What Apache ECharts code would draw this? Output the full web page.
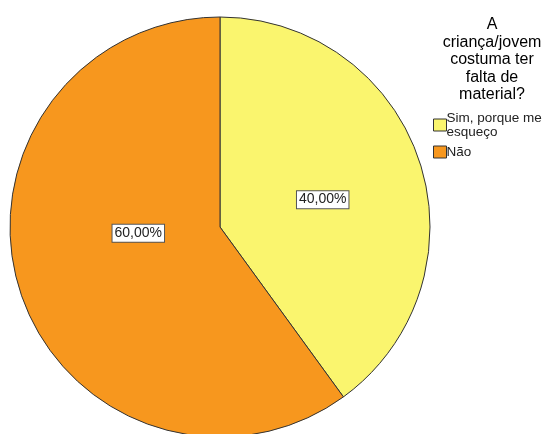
<!DOCTYPE html>
<html><head><meta charset="utf-8">
<script src="https://cdn.jsdelivr.net/npm/echarts@6/dist/echarts.min.js"></script>
<style>html,body{margin:0;padding:0;background:#fff}#c{width:546px;height:434px}</style>
</head><body><div id="c"></div>
<script>
const categories = ['Sim, porque me\nesqueço', 'Não'];
const values = [40, 60];
const colors = ['#FAF56E', '#F7971E'];
const legendTitle = 'A\ncriança/jovem\ncostuma ter\nfalta de\nmaterial?';

const labelShift = [[0, 6], [21, -27]];

const chart = echarts.init(document.getElementById('c'));
chart.setOption({
  backgroundColor: '#fff',
  animation: false,
  textStyle: { fontFamily: 'Liberation Sans, Arial, sans-serif' },
  title: {
    text: legendTitle,
    left: 487, top: 11, textAlign: 'center',
    textStyle: { fontSize: 16, fontWeight: 'normal', color: '#000', lineHeight: 17.5, fontFamily: 'Liberation Sans' }
  },
  legend: {
    orient: 'vertical', left: 428, top: 106,
    itemWidth: 13, itemHeight: 12, itemGap: 6,
    icon: 'rect',
    itemStyle: { borderColor: '#333', borderWidth: 1 },
    textStyle: { fontSize: 13.5, color: '#222', lineHeight: 14, padding: [0, 0, 0, -5], fontFamily: 'Liberation Sans' },
    data: categories
  },
  series: [{
    type: 'pie',
    center: [220, 227],
    radius: [0, 210],
    startAngle: 90,
    clockwise: true,
    color: colors,
    itemStyle: { borderColor: '#333', borderWidth: 1 },
    label: {
      show: true, position: 'inside',
      formatter: p => p.value.toFixed(2).replace('.', ',') + '%',
      fontSize: 14, color: '#222', backgroundColor: '#fff',
      borderColor: '#555', borderWidth: 1, padding: [2, 2, 1, 2],
      fontFamily: 'Liberation Sans'
    },
    labelLine: { show: false },
    emphasis: { disabled: true },
    data: categories.map((c, i) => ({ name: c, value: values[i], label: { offset: labelShift[i] } }))
  }]
});
</script></body></html>
